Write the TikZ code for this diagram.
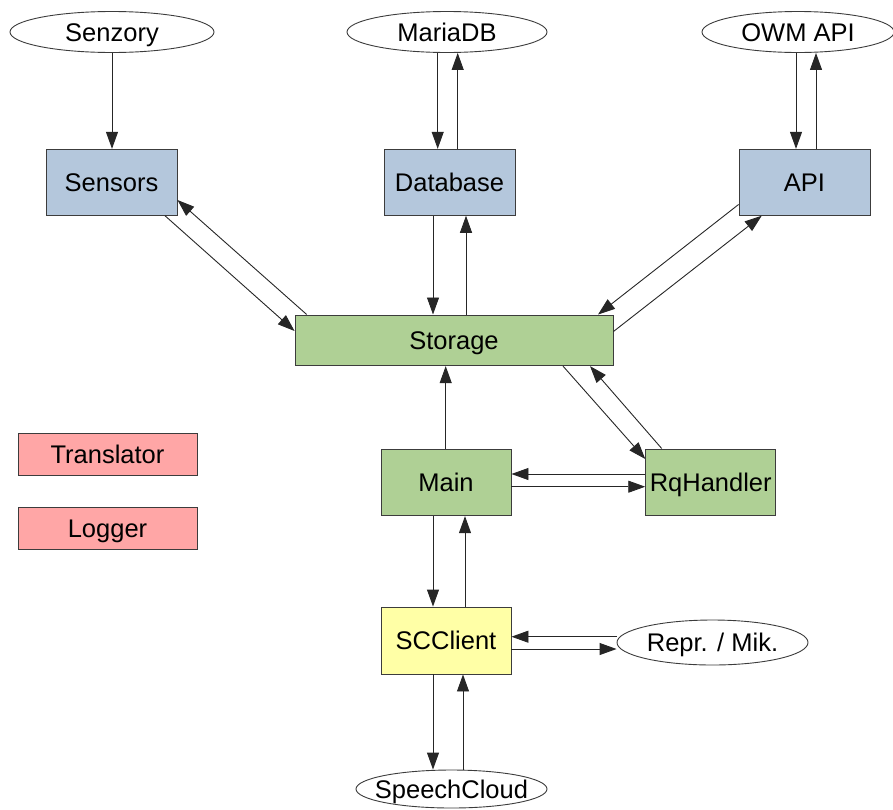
\documentclass[tikz,border=0pt]{standalone}
\usepackage{fontspec}
\setmainfont{Liberation Sans}
\usetikzlibrary{arrows.meta,shapes.geometric}
\definecolor{boxblue}{HTML}{B4C7DC}
\definecolor{boxgreen}{HTML}{AFD095}
\definecolor{boxpink}{HTML}{FFA6A6}
\definecolor{boxyellow}{HTML}{FFFFA6}
\definecolor{edgegray}{HTML}{3C3C3C}
\tikzset{
  every node/.style={font=\fontsize{25.5}{28}\selectfont, text=black, inner sep=0pt,
    text height=18.4pt, text depth=0pt},
  ext/.style={ellipse, draw=edgegray, line width=0.9pt, fill=white},
  comp/.style={rectangle, draw=edgegray, line width=0.9pt, minimum width=130pt, minimum height=66pt},
  bluebox/.style={comp, fill=boxblue},
  greenbox/.style={comp, fill=boxgreen},
  pinkbox/.style={comp, fill=boxpink, minimum width=179pt, minimum height=42pt},
  yellowbox/.style={comp, fill=boxyellow},
  arr/.style={draw=black!85, line width=0.9pt, -{Triangle[length=17pt,width=12pt]}},
}
\begin{document}
\begin{tikzpicture}[x=1pt,y=-1pt]
\useasboundingbox (0,0) rectangle (893,809);
% external ellipses
\node[ext, minimum width=204pt, minimum height=41pt] (Senzory) at (112,32) {Senzory};
\node[ext, minimum width=200pt, minimum height=41pt] (MariaDB) at (447,32) {MariaDB};
\node[ext, minimum width=192pt, minimum height=41pt] (OWM) at (798,32) {OWM API};
\node[ext, minimum width=191pt, minimum height=45pt] (Repr) at (712.5,642.5) {Repr. / Mik.};
\node[ext, minimum width=191pt, minimum height=38pt, inner xsep=-12pt] (Speech) at (451.5,789) {SpeechCloud};
% components
\node[bluebox, minimum width=131pt] (Sensors) at (111.5,182.3) {Sensors};
\node[bluebox, minimum width=131pt] (Database) at (449.5,182.3) {Database};
\node[bluebox, minimum width=131pt] (API) at (804.5,182.3) {API};
\node[greenbox, minimum width=318pt, minimum height=50.7pt] (Storage) at (454,340.3) {Storage};
\node[greenbox, minimum height=66.7pt] (Main) at (446,482.3) {Main};
\node[greenbox, minimum height=66.7pt] (Rq) at (710.7,482.3) {RqHandler};
\node[yellowbox, minimum height=67pt] (SC) at (446,640.5) {SCClient};
\node[pinkbox] (Translator) at (107.5,454) {Translator};
\node[pinkbox, minimum height=41.5pt] (Logger) at (107.5,528.3) {Logger};
% connectors
\draw[arr] (Senzory.south -| 112,0) -- (Sensors.north -| 112,0);
\draw[arr] (MariaDB.south -| 437.7,0) -- (Database.north -| 437.7,0);
\draw[arr] (Database.north -| 457.7,0) -- (MariaDB.south -| 457.7,0);
\draw[arr] (OWM.south -| 796,0) -- (API.north -| 796,0);
\draw[arr] (API.north -| 816,0) -- (OWM.south -| 816,0);
\draw[arr] (Database.south -| 433,0) -- (Storage.north -| 433,0);
\draw[arr] (Storage.north -| 466,0) -- (Database.south -| 466,0);
\draw[arr] (Sensors.south -| 165,0) -- (Storage.west |- 0,331);
\draw[arr] (Storage.north -| 306.7,0) -- (Sensors.east |- 0,200);
\draw[arr] (API.west |- 0,204.5) -- (Storage.north -| 598,0);
\draw[arr] (Storage.east |- 0,331.5) -- (API.south -| 761.7,0);
\draw[arr] (Storage.south -| 563,0) -- (Rq.west |- 0,459);
\draw[arr] (Rq.north -| 661.7,0) -- (Storage.south -| 590,0);
\draw[arr] (Main.north -| 445.7,0) -- (Storage.south -| 445.7,0);
\draw[arr] (Rq.west |- 0,474) -- (Main.east |- 0,474);
\draw[arr] (Main.east |- 0,486.7) -- (Rq.west |- 0,486.7);
\draw[arr] (Main.south -| 433,0) -- (SC.north -| 433,0);
\draw[arr] (SC.north -| 465,0) -- (Main.south -| 465,0);
\draw[arr] (Repr.west |- 0,636.7) -- (SC.east |- 0,636.7);
\draw[arr] (SC.east |- 0,649) -- (Repr.west |- 0,649);
\draw[arr] (SC.south -| 433,0) -- (Speech.north -| 433,0);
\draw[arr] (Speech.north -| 463,0) -- (SC.south -| 463,0);
\end{tikzpicture}
\end{document}
